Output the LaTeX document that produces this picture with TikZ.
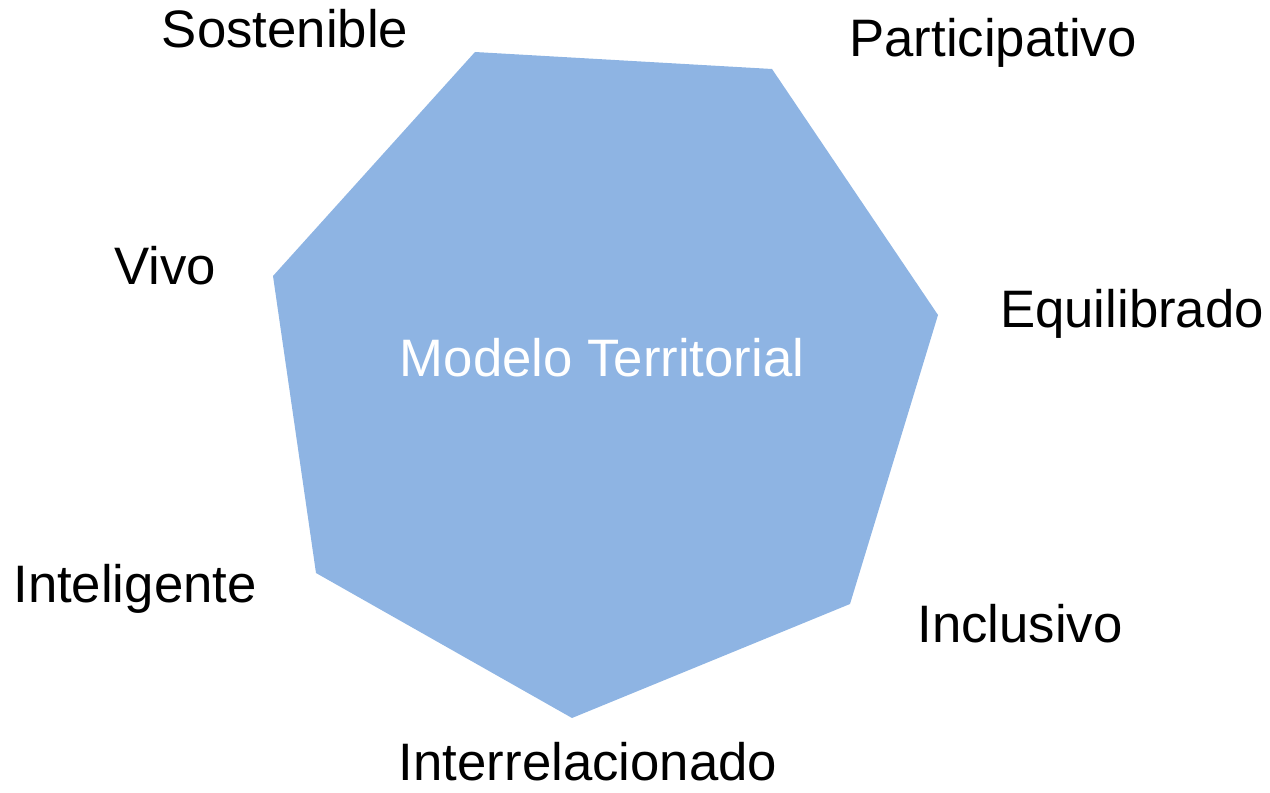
\documentclass[tikz,border=0pt]{standalone}
\usepackage{fontspec}
\setmainfont{Liberation Sans}
\usepackage{tikz}
\definecolor{hexblue}{HTML}{8EB4E3}

\begin{document}
\begin{tikzpicture}[
    label/.style={anchor=base, font=\fontsize{30}{36}\selectfont, inner sep=0pt}
]
        % Bounding box
        \useasboundingbox (0, 0) rectangle (25.4, 15.84);

        % Heptagon corners
        \coordinate (c1) at (9.50, 14.80);
        \coordinate (c2) at (15.44, 14.46);
        \coordinate (c3) at (18.76, 9.54);
        \coordinate (c4) at (17.00, 3.76);
        \coordinate (c5) at (11.44, 1.48);
        \coordinate (c6) at (6.32, 4.38);
        \coordinate (c7) at (5.46, 10.32);
        \fill[hexblue] (c1) -- (c2) -- (c3) -- (c4) -- (c5) -- (c6) -- (c7) -- cycle;

        % Centre text
        \node[label, text=white] (modelo) at (12.04, 8.30) {Modelo Territorial};

        % Outer labels
        \node[label] (sost) at (5.70, 14.88) {Sostenible};
        \node[label] (part) at (19.86, 14.70) {Participativo};
        \node[label] (equi) at (22.64, 9.28) {Equilibrado};
        \node[label] (incl) at (20.40, 3.00) {Inclusivo};
        \node[label] (inter) at (11.76, 0.24) {Interrelacionado};
        \node[label] (intel) at (2.70, 3.80) {Inteligente};
        \node[label] (vivo) at (3.30, 10.14) {Vivo};
    \end{tikzpicture}
\end{document}
